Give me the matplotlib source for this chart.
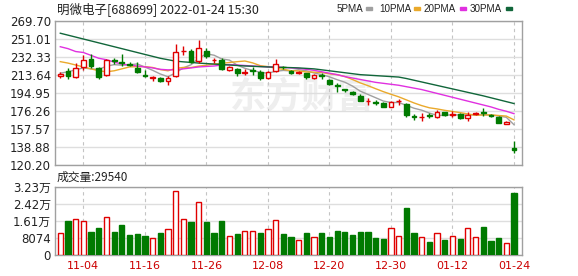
import matplotlib
matplotlib.use('Agg')
import matplotlib.pyplot as plt
import numpy as np
import pandas as pd

plt.rcParams['font.family'] = ['DejaVu Sans', 'Noto Sans CJK SC']

# ---------------- data ----------------
dates = [d for d in pd.bdate_range('2021-11-01', '2022-01-24') if d != pd.Timestamp('2022-01-03')]

opens = [212.5, 217.8, 211.3, 221.6, 229.9, 221.2, 213.3, 229.0, 227.5, 225.0,
         220.6, 214.0, 211.0, 210.9, 207.7, 212.6, 238.2, 238.6, 228.5, 238.6,
         229.0, 229.2, 218.5, 219.6, 216.2, 218.5, 217.1, 210.9, 218.1, 222.0,
         217.8, 216.0, 215.4, 210.2, 214.0, 208.5, 203.0, 198.6, 196.3, 192.2,
         186.5, 185.8, 184.9, 180.7, 186.5, 183.2, 171.0, 170.0, 172.0, 170.0,
         174.9, 172.5, 172.9, 168.7, 173.5, 175.0, 172.0, 169.7, 162.8, 137.5]
highs = [217.0, 221.2, 225.8, 234.4, 235.4, 222.3, 230.0, 231.0, 235.0, 227.0,
         227.5, 218.8, 212.6, 211.5, 212.5, 245.8, 243.5, 240.6, 249.5, 241.4,
         231.6, 231.6, 223.0, 221.2, 219.9, 222.3, 218.8, 218.0, 229.9, 223.5,
         219.0, 218.0, 216.0, 215.0, 216.0, 210.0, 205.0, 199.5, 197.0, 193.5,
         189.5, 188.0, 185.5, 186.5, 189.0, 184.3, 173.0, 174.5, 174.5, 177.0,
         175.5, 176.0, 174.0, 175.6, 175.5, 179.7, 173.5, 171.4, 165.5, 145.0]
lows = [210.2, 209.2, 211.0, 219.0, 221.2, 209.2, 213.0, 225.0, 222.5, 222.5,
        216.1, 211.3, 207.1, 206.7, 203.0, 211.9, 234.4, 226.4, 226.4, 231.0,
        225.8, 218.8, 217.5, 213.0, 213.6, 213.6, 208.5, 210.0, 216.8, 219.5,
        214.5, 215.0, 209.0, 209.0, 209.0, 203.0, 196.3, 196.5, 192.8, 186.5,
        182.5, 182.0, 180.2, 180.0, 182.5, 170.3, 167.0, 165.9, 169.0, 169.0,
        171.0, 170.0, 168.0, 166.2, 172.0, 171.4, 170.0, 163.4, 162.5, 133.0]
closes = [214.5, 212.3, 220.6, 229.2, 223.0, 212.0, 229.2, 228.5, 226.5, 224.5,
          217.1, 213.0, 211.5, 207.4, 210.2, 237.2, 239.0, 227.5, 241.4, 233.4,
          229.5, 219.6, 221.6, 215.4, 217.0, 218.0, 210.2, 217.1, 225.1, 221.5,
          215.4, 216.8, 211.3, 213.6, 213.0, 204.0, 202.0, 198.1, 193.6, 186.7,
          187.0, 185.0, 180.7, 185.9, 187.0, 172.1, 170.0, 170.5, 171.0, 175.0,
          172.1, 173.5, 168.7, 172.1, 174.0, 174.3, 171.0, 164.1, 165.2, 135.5]

volumes = [10300, 16150, 16950, 16150, 10925, 12825, 17900, 10925, 14250, 9500,
           9975, 9025, 8075, 10450, 12350, 30400, 17100, 15675, 25175, 15675,
           10450, 16150, 9025, 9975, 11400, 11400, 10450, 12350, 16625, 9975,
           8550, 7125, 10290, 8550, 10290, 8550, 11400, 10925, 9500, 10925,
           10925, 8075, 7600, 12825, 9025, 22325, 10290, 8550, 6175, 10290,
           7125, 9025, 7600, 12825, 8550, 13300, 6650, 8075, 5700, 29540]
vol_dir = "rgrrggrgggggrgrrrgrgggrgrrgrrg" "grgrggggggggg" "rrggrgrgrgrrgggrg"

ma5_head = [215.5, 217.0, 219.0, 221.0]
ma10_head = [227.5, 226.0, 224.0, 222.0, 220.0, 218.0, 217.0, 218.0, 220.0]
ma20 = [243.0, 241.0, 238.0, 237.0, 234.0, 231.0, 229.5, 227.0, 225.0, 224.0,
        223.0, 222.0, 221.0, 219.5, 219.0, 219.0, 220.0, 221.0, 222.0, 222.5,
        223.0, 224.0, 224.5, 224.0, 223.5, 223.0, 222.5, 222.0, 222.0, 221.5,
        221.0, 220.5, 219.5, 218.5, 217.0, 215.5, 214.0, 212.0, 210.5, 209.0,
        207.5, 206.0, 205.0, 204.0, 203.0, 201.5, 200.0, 198.5, 196.5, 194.5,
        192.5, 190.5, 188.5, 186.5, 184.5, 182.5, 180.5, 178.0, 176.0, 173.5]
ma30 = [257.0, 255.0, 253.0, 251.0, 249.0, 247.0, 245.0, 243.0, 241.0, 239.0,
        237.0, 235.0, 233.0, 231.0, 229.5, 228.0, 227.3, 226.7, 226.0, 225.5,
        225.0, 224.5, 224.0, 223.5, 223.0, 222.7, 222.3, 222.0, 221.8, 221.5,
        221.3, 221.0, 220.5, 220.0, 219.0, 218.0, 217.0, 216.0, 215.0, 214.0,
        213.5, 213.0, 212.5, 212.0, 211.5, 210.0, 208.2, 206.4, 204.6, 202.8,
        201.0, 199.2, 197.4, 195.6, 193.8, 192.0, 190.0, 188.0, 186.0, 184.0]

price_ticks = [120.20, 138.88, 157.57, 176.26, 194.95, 213.64, 232.33, 251.01, 269.70]
vol_ticks = [0, 8074, 16148, 24222, 32296]
vol_tick_labels = ['0', '8074', '1.61万', '2.42万', '3.23万']
date_labels = ['11-04', '11-16', '11-26', '12-08', '12-20', '12-30', '01-12', '01-24']

title = '明微电子[688699] 2022-01-24 15:30'
vol_title = '成交量:29540'
legend_names = ['5PMA', '10PMA', '20PMA', '30PMA']

# ---------------- styling ----------------
UP = '#e00000'
DN = '#007a00'
MA_COLORS = ['#a0a0a0', '#eaa92b', '#e030e0', '#11663a']
GRID = '#dedede'
FRAME = '#a0a0a0'

W, H = 578, 276
fig = plt.figure(figsize=(W / 100, H / 100), dpi=100)


def rect(l, t, r, b):
    return [l / W, 1 - b / H, (r - l) / W, (b - t) / H]


axp = fig.add_axes(rect(55, 21, 522, 165))
axv = fig.add_axes(rect(55, 187, 522, 255))

n = len(closes)
x = np.arange(n)
o = np.array(opens); c = np.array(closes); h = np.array(highs); l = np.array(lows)
up = c >= o

# watermark
axp.text(0.53, 0.47, '东方财富', transform=axp.transAxes, fontsize=26, color='#eeeeee',
         ha='center', va='center', fontweight='bold', style='italic',
         family=['Noto Sans CJK SC', 'DejaVu Sans'], zorder=0)

# moving averages
ma5 = pd.Series(c).rolling(5).mean().to_numpy()
ma5[:4] = ma5_head
ma10 = pd.Series(c).rolling(10).mean().to_numpy()
ma10[:9] = ma10_head
for vals, col in zip([ma5, ma10, ma20, ma30], MA_COLORS):
    axp.plot(x, vals, color=col, lw=1.0, zorder=4)

# candles
cols = np.where(up, UP, DN)
axp.vlines(x, l, h, colors=cols, lw=1, zorder=5)
bh = np.maximum(np.abs(c - o), 0.05)
axp.bar(x, bh, bottom=np.minimum(o, c), width=0.62,
        facecolor=np.where(up, 'white', DN), edgecolor=cols, lw=1, zorder=6)

axp.set_xlim(-0.69, 60.04)
axp.set_ylim(120.20, 269.70)
axp.set_yticks(price_ticks)
axp.set_yticklabels([f'{v:.2f}' for v in price_ticks])

tick_idx = [i for i, d in enumerate(dates) if d.strftime('%m-%d') in date_labels]
axp.set_xticks(tick_idx)
axp.set_xticklabels([])

# volume
vcols = [UP if ch == 'r' else DN for ch in vol_dir]
vface = ['white' if ch == 'r' else DN for ch in vol_dir]
axv.bar(x, volumes, width=0.68, facecolor=vface, edgecolor=vcols, lw=1, zorder=3)
axv.set_xlim(-0.69, 60.04)
axv.set_ylim(0, 32296)
axv.set_yticks(vol_ticks)
axv.set_yticklabels(vol_tick_labels)
axv.set_xticks(tick_idx)
axv.set_xticklabels([dates[i].strftime('%m-%d') for i in tick_idx], color='#cc0000', fontsize=8)

for ax in (axp, axv):
    ax.yaxis.grid(True, color=GRID, lw=1, ls='-', zorder=0)
    ax.xaxis.grid(True, color='#c4c4c4', lw=0.8, ls=(0, (3, 3)), zorder=0)
    ax.set_axisbelow(True)
    for s in ax.spines.values():
        s.set_color(FRAME)
        s.set_linewidth(1)
    ax.tick_params(length=0, pad=3, labelsize=8.5, colors='#222222')
axv.tick_params(axis='x', colors='#cc0000', pad=4, labelsize=8)

# texts
fig.text(57 / W, 1 - 9 / H, title, fontsize=9, color='#222222', va='center', ha='left',
         family=['Noto Sans CJK SC', 'DejaVu Sans'])
fig.text(57 / W, 1 - 177 / H, vol_title, fontsize=8.5, color='#222222', va='center', ha='left',
         family=['Noto Sans CJK SC', 'DejaVu Sans'])

leg_x = [337, 379, 424, 470]
sq_x = [366, 414, 460, 506]
for name, lx, sx, col in zip(legend_names, leg_x, sq_x, MA_COLORS):
    fig.text(lx / W, 1 - 8.5 / H, name, fontsize=7.1, color='#222222', va='center', ha='left',
             family=['Liberation Sans', 'DejaVu Sans'])
    fig.patches.append(plt.Rectangle((sx / W, 1 - 10 / H), 6 / W, 3 / H,
                                     transform=fig.transFigure, color=col, figure=fig))

fig.savefig('out.png', dpi=100, facecolor='white')
